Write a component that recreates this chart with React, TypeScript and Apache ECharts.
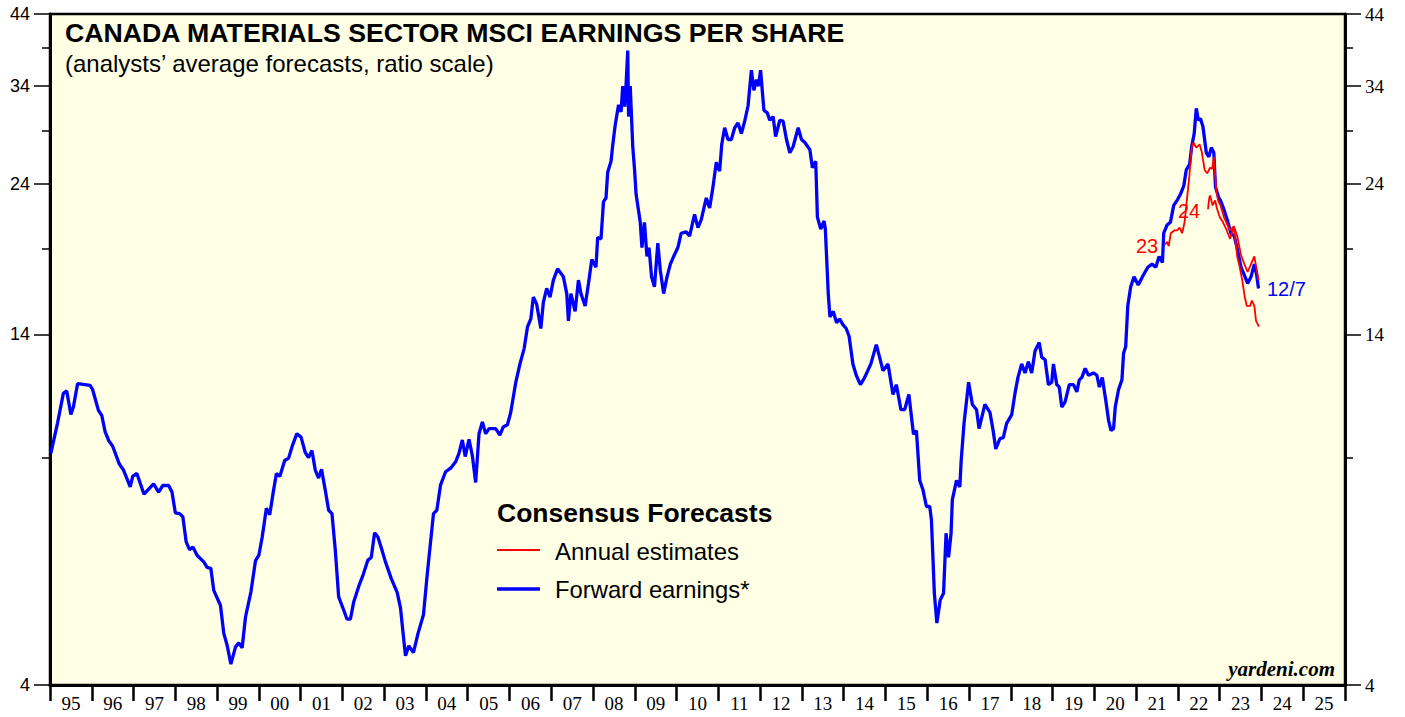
import React, { useEffect, useRef } from 'react';
import * as echarts from 'echarts';

const yearLabels = ['95','96','97','98','99','00','01','02','03','04','05','06','07','08','09','10','11','12','13','14','15','16','17','18','19','20','21','22','23','24','25'];
const majorTicks = [4, 14, 24, 34, 44];
const minorTicks = [9, 19, 29, 39];

const forwardEarnings: [number, number][] = [
  [1995.02, 9.15], [1995.18, 10.2], [1995.32, 11.34], [1995.40, 11.44], [1995.50, 10.52], [1995.56, 10.8], [1995.66, 11.74],
  [1995.96, 11.67], [1996.02, 11.5], [1996.16, 10.67], [1996.24, 10.48], [1996.32, 9.88], [1996.41, 9.57], [1996.50, 9.39],
  [1996.66, 8.81], [1996.76, 8.62], [1996.92, 8.12], [1996.98, 8.43], [1997.08, 8.52], [1997.25, 7.91], [1997.48, 8.21],
  [1997.60, 7.97], [1997.70, 8.16], [1997.84, 8.16], [1997.92, 7.97], [1998.00, 7.40], [1998.10, 7.38], [1998.18, 7.30],
  [1998.26, 6.67], [1998.34, 6.49], [1998.42, 6.55], [1998.52, 6.36], [1998.68, 6.21], [1998.76, 6.09], [1998.85, 6.07],
  [1998.92, 5.61], [1999.08, 5.32], [1999.16, 4.81], [1999.24, 4.61], [1999.33, 4.31], [1999.44, 4.58], [1999.52, 4.65],
  [1999.60, 4.57], [1999.68, 5.10], [1999.81, 5.58], [1999.92, 6.24], [2000.00, 6.36], [2000.08, 6.79], [2000.18, 7.52],
  [2000.26, 7.35], [2000.34, 7.94], [2000.42, 8.52], [2000.50, 8.43], [2000.62, 8.93], [2000.71, 8.99], [2000.80, 9.4],
  [2000.91, 9.82], [2001.01, 9.70], [2001.11, 9.18], [2001.19, 9.02], [2001.27, 9.25], [2001.35, 8.62], [2001.43, 8.38],
  [2001.50, 8.65], [2001.59, 8.02], [2001.67, 7.47], [2001.75, 7.38], [2001.83, 6.47], [2001.91, 5.48], [2002.03, 5.23],
  [2002.11, 5.06], [2002.19, 5.06], [2002.27, 5.38], [2002.39, 5.69], [2002.50, 5.94], [2002.61, 6.25], [2002.69, 6.31],
  [2002.77, 6.89], [2002.85, 6.79], [2002.95, 6.47], [2003.03, 6.21], [2003.17, 5.85], [2003.31, 5.57], [2003.39, 5.27],
  [2003.46, 4.76], [2003.51, 4.44], [2003.59, 4.60], [2003.70, 4.49], [2003.81, 4.81], [2003.94, 5.14], [2004.03, 5.94],
  [2004.18, 7.38], [2004.26, 7.47], [2004.35, 8.18], [2004.47, 8.57], [2004.59, 8.68], [2004.71, 8.88], [2004.79, 9.15],
  [2004.87, 9.60], [2004.94, 9.05], [2005.03, 9.62], [2005.11, 9.08], [2005.19, 8.25], [2005.27, 9.82], [2005.35, 10.24],
  [2005.43, 9.82], [2005.51, 10.0], [2005.67, 10.0], [2005.77, 9.77], [2005.85, 10.06], [2005.95, 10.14], [2006.03, 10.6],
  [2006.15, 11.8], [2006.25, 12.6], [2006.35, 13.31], [2006.43, 14.38], [2006.51, 14.8], [2006.57, 16.0], [2006.65, 15.6],
  [2006.75, 14.3], [2006.81, 15.7], [2006.89, 16.5], [2006.97, 16.0], [2007.05, 17.0], [2007.15, 17.7], [2007.29, 17.2],
  [2007.37, 16.2], [2007.41, 14.7], [2007.47, 16.2], [2007.57, 15.2], [2007.65, 17.0], [2007.71, 16.2], [2007.81, 15.5],
  [2007.89, 16.8], [2007.97, 18.3], [2008.07, 17.8], [2008.11, 19.8], [2008.19, 19.7], [2008.25, 22.5], [2008.31, 22.8],
  [2008.35, 25.0], [2008.43, 26.0], [2008.47, 27.5], [2008.53, 29.6], [2008.61, 31.8], [2008.67, 31.0], [2008.71, 34.0],
  [2008.76, 31.6], [2008.79, 34.2], [2008.83, 38.6], [2008.85, 30.5], [2008.89, 34.0], [2008.95, 27.4], [2008.99, 25.4],
  [2009.03, 23.1], [2009.13, 20.9], [2009.17, 19.1], [2009.23, 20.9], [2009.29, 18.5], [2009.34, 19.1], [2009.40, 17.2],
  [2009.47, 16.6], [2009.55, 19.4], [2009.61, 17.6], [2009.69, 16.2], [2009.77, 17.2], [2009.85, 18.0], [2009.93, 18.5],
  [2010.03, 19.1], [2010.11, 20.1], [2010.23, 20.2], [2010.31, 19.9], [2010.43, 21.5], [2010.51, 20.5], [2010.59, 21.1],
  [2010.71, 22.8], [2010.79, 22.0], [2010.87, 23.7], [2010.95, 25.9], [2011.03, 25.1], [2011.08, 27.6], [2011.15, 29.3],
  [2011.23, 28.1], [2011.31, 28.1], [2011.39, 29.3], [2011.47, 29.8], [2011.55, 28.7], [2011.63, 30.0], [2011.71, 31.7],
  [2011.79, 36.0], [2011.85, 33.5], [2011.91, 34.8], [2011.96, 34.0], [2012.01, 36.0], [2012.09, 31.2], [2012.17, 30.9],
  [2012.23, 30.1], [2012.31, 30.5], [2012.37, 28.4], [2012.47, 30.1], [2012.55, 30.0], [2012.63, 28.1], [2012.71, 26.8],
  [2012.79, 27.4], [2012.91, 29.3], [2012.99, 28.1], [2013.07, 27.8], [2013.19, 27.1], [2013.25, 25.4], [2013.33, 26.0],
  [2013.37, 21.3], [2013.45, 20.4], [2013.53, 21.0], [2013.56, 20.4], [2013.63, 16.2], [2013.67, 14.9], [2013.75, 15.2],
  [2013.83, 14.6], [2013.90, 14.8], [2013.98, 14.5], [2014.06, 14.3], [2014.13, 13.9], [2014.22, 12.6], [2014.30, 12.1],
  [2014.40, 11.7], [2014.50, 12.0], [2014.65, 12.6], [2014.78, 13.5], [2014.86, 12.9], [2014.94, 12.3], [2015.06, 12.6],
  [2015.18, 11.3], [2015.26, 11.7], [2015.37, 10.7], [2015.46, 10.7], [2015.56, 11.3], [2015.67, 9.8], [2015.74, 9.93],
  [2015.82, 8.31], [2015.90, 8.02], [2015.98, 7.57], [2016.06, 7.57], [2016.10, 7.21], [2016.17, 5.55], [2016.23, 4.99],
  [2016.31, 5.42], [2016.39, 5.55], [2016.45, 6.88], [2016.51, 6.31], [2016.57, 6.88], [2016.60, 7.75], [2016.70, 8.31],
  [2016.78, 8.12], [2016.81, 8.88], [2016.88, 10.19], [2016.99, 11.8], [2017.08, 10.9], [2017.18, 10.7], [2017.24, 10.0],
  [2017.38, 10.9], [2017.50, 10.6], [2017.58, 9.9], [2017.64, 9.3], [2017.74, 9.65], [2017.82, 9.68], [2017.90, 10.19],
  [2018.02, 10.5], [2018.10, 11.34], [2018.17, 12.0], [2018.26, 12.6], [2018.34, 12.2], [2018.42, 12.7], [2018.50, 12.2],
  [2018.58, 13.2], [2018.68, 13.6], [2018.74, 12.9], [2018.82, 12.8], [2018.90, 11.7], [2018.98, 11.8], [2019.02, 12.6],
  [2019.10, 11.7], [2019.16, 11.6], [2019.22, 10.8], [2019.30, 11.0], [2019.40, 11.7], [2019.50, 11.7], [2019.58, 11.4],
  [2019.64, 11.9], [2019.70, 12.0], [2019.78, 12.4], [2019.86, 12.1], [2019.98, 12.2], [2020.06, 12.1], [2020.12, 11.6],
  [2020.19, 12.0], [2020.27, 11.1], [2020.34, 10.3], [2020.40, 9.93], [2020.46, 10.0], [2020.50, 10.8], [2020.58, 11.5],
  [2020.66, 11.9], [2020.70, 13.1], [2020.75, 13.4], [2020.80, 15.5], [2020.87, 16.6], [2020.95, 17.2], [2021.05, 16.7],
  [2021.17, 17.3], [2021.28, 17.8], [2021.38, 18.0], [2021.47, 17.8], [2021.55, 18.5], [2021.63, 18.1], [2021.66, 20.1],
  [2021.74, 20.7], [2021.82, 20.9], [2021.90, 22.2], [2021.98, 22.6], [2022.06, 23.1], [2022.14, 23.8], [2022.20, 25.2],
  [2022.28, 25.7], [2022.33, 27.4], [2022.39, 28.7], [2022.44, 31.4], [2022.49, 30.1], [2022.54, 30.3], [2022.60, 29.4],
  [2022.68, 26.8], [2022.74, 26.4], [2022.80, 27.3], [2022.86, 26.8], [2022.90, 23.7], [2022.98, 22.8], [2023.02, 22.6],
  [2023.10, 21.9], [2023.18, 21.1], [2023.27, 20.1], [2023.35, 19.9], [2023.43, 18.9], [2023.51, 17.8], [2023.59, 17.3],
  [2023.67, 16.8], [2023.75, 17.2], [2023.83, 18.0], [2023.88, 17.4], [2023.93, 16.5]
];

const annual2023: [number, number][] = [
  [2021.70, 19.3], [2021.74, 19.5], [2021.78, 19.2], [2021.83, 20.1], [2021.91, 20.3], [2021.98, 20.3], [2022.04, 20.5],
  [2022.10, 20.1], [2022.16, 20.9], [2022.22, 22.8], [2022.27, 24.5], [2022.33, 27.3], [2022.37, 27.8], [2022.44, 27.3],
  [2022.52, 27.6], [2022.57, 26.9], [2022.64, 25.2], [2022.70, 24.9], [2022.77, 25.4], [2022.82, 25.3], [2022.86, 26.4],
  [2022.92, 23.4], [2022.96, 22.6], [2023.02, 22.2], [2023.10, 21.3], [2023.17, 20.8], [2023.25, 20.3], [2023.34, 20.6],
  [2023.42, 19.9], [2023.51, 18.6], [2023.59, 18.0], [2023.67, 17.5], [2023.75, 18.0], [2023.83, 18.5], [2023.89, 17.6],
  [2023.93, 17.0]
];

const annual2024: [number, number][] = [
  [2022.72, 21.9], [2022.75, 22.8], [2022.77, 23.0], [2022.83, 22.2], [2022.89, 22.6], [2022.94, 21.9], [2023.00, 21.3],
  [2023.08, 20.9], [2023.17, 20.3], [2023.25, 19.7], [2023.34, 20.6], [2023.38, 19.5], [2023.42, 18.5], [2023.48, 17.8],
  [2023.54, 17.0], [2023.60, 16.0], [2023.65, 15.5], [2023.73, 15.5], [2023.77, 15.8], [2023.83, 15.5], [2023.87, 14.7],
  [2023.94, 14.4]
];

export default function App() {
  const ref = useRef<HTMLDivElement>(null);
  useEffect(() => {
    if (!ref.current) return;
    const chart = echarts.init(ref.current, null, { renderer: 'svg' });
    const sans = '"Liberation Sans", Arial, Helvetica, sans-serif';
    const serif = '"Liberation Serif", "Times New Roman", serif';
    const yBase: any = {
      type: 'log', logBase: 10, min: 4, max: 44,
      splitLine: { show: false }, minorTick: { show: false }, minorSplitLine: { show: false },
    };
    const majorY = (position: string, font: string, margin: number, size: number) => ({
      ...yBase, position,
      axisLine: { show: true, lineStyle: { color: '#000', width: 3 } },
      axisTick: { show: true, inside: false, length: 16, customValues: majorTicks, lineStyle: { color: '#000', width: 1.5 } },
      axisLabel: { show: true, customValues: majorTicks, margin, color: '#000', fontFamily: font, fontSize: size },
    });
    const minorY = (position: string) => ({
      ...yBase, position,
      axisLine: { show: false },
      axisTick: { show: true, inside: false, length: 8, customValues: minorTicks, lineStyle: { color: '#000', width: 1.5 } },
      axisLabel: { show: false },
    });
    const txt = (text: string, x: number, y: number, opts: any = {}) => ({
      type: 'text', x, y, z: 100,
      style: {
        text, fill: opts.fill || '#000', fontFamily: opts.family || sans,
        fontSize: opts.size || 20, fontWeight: opts.weight || 'normal', fontStyle: opts.style || 'normal',
        align: opts.align || 'left', verticalAlign: 'middle',
        textAlign: opts.align || 'left', textVerticalAlign: 'middle',
      },
    });
    chart.setOption({
      animation: false,
      backgroundColor: '#ffffff',
      grid: {
        left: 50, right: 60, top: 14, bottom: 32, show: true,
        backgroundColor: '#FFFFE5', borderColor: '#000', borderWidth: 2.5,
      },
      xAxis: [
        {
          type: 'category', data: yearLabels, boundaryGap: true, position: 'bottom',
          axisLine: { show: true, lineStyle: { color: '#000', width: 3 } },
          axisTick: { show: true, interval: 0, alignWithLabel: false, length: 16, lineStyle: { color: '#000', width: 2.5 } },
          axisLabel: { show: true, interval: 0, margin: 9, color: '#000', fontFamily: serif, fontSize: 19 },
          splitLine: { show: false },
        },
        { type: 'value', min: 1995, max: 2026, show: false, splitLine: { show: false } },
      ],
      yAxis: [
        majorY('left', sans, 20, 18),
        minorY('left'),
        majorY('right', serif, 20, 19),
        minorY('right'),
      ],
      series: [
        {
          name: 'Forward earnings*', type: 'line', xAxisIndex: 1, yAxisIndex: 0, data: forwardEarnings,
          symbol: 'none', showSymbol: false, lineStyle: { color: '#0000FF', width: 3.3 }, z: 2,
        },
        {
          name: '2023', type: 'line', xAxisIndex: 1, yAxisIndex: 0, data: annual2023,
          symbol: 'none', showSymbol: false, lineStyle: { color: '#FF0000', width: 1.8 }, z: 3,
        },
        {
          name: '2024', type: 'line', xAxisIndex: 1, yAxisIndex: 0, data: annual2024,
          symbol: 'none', showSymbol: false, lineStyle: { color: '#FF0000', width: 1.8 }, z: 3,
        },
      ],
      graphic: [
        txt('CANADA MATERIALS SECTOR MSCI EARNINGS PER SHARE', 65, 33, { size: 26.7, weight: 'bold' }),
        txt('(analysts\u2019 average forecasts, ratio scale)', 65, 63, { size: 24 }),
        txt('Consensus Forecasts', 497, 513, { size: 26.5, weight: 'bold' }),
        { type: 'line', z: 100, shape: { x1: 497, y1: 550, x2: 540, y2: 550 }, style: { stroke: '#FF0000', lineWidth: 2 } },
        txt('Annual estimates', 555, 551, { size: 24 }),
        { type: 'line', z: 100, shape: { x1: 497, y1: 589, x2: 540, y2: 589 }, style: { stroke: '#0000FF', lineWidth: 3.5 } },
        txt('Forward earnings*', 555, 589, { size: 23.8 }),
        txt('yardeni.com', 1335, 669, { size: 21, weight: 'bold', style: 'italic', family: serif, align: 'right' }),
        txt('23', 1147, 246, { size: 20, fill: '#FF0000', align: 'center' }),
        txt('24', 1189, 211, { size: 20, fill: '#FF0000', align: 'center' }),
        txt('12/7', 1267, 289, { size: 20, fill: '#0000FF' }),
      ],
    });
    return () => chart.dispose();
  }, []);
  return (
    <div
      ref={ref}
      style={{ position: 'fixed', left: 0, top: 0, width: 1405, height: 717, background: '#fff' }}
    />
  );
}
